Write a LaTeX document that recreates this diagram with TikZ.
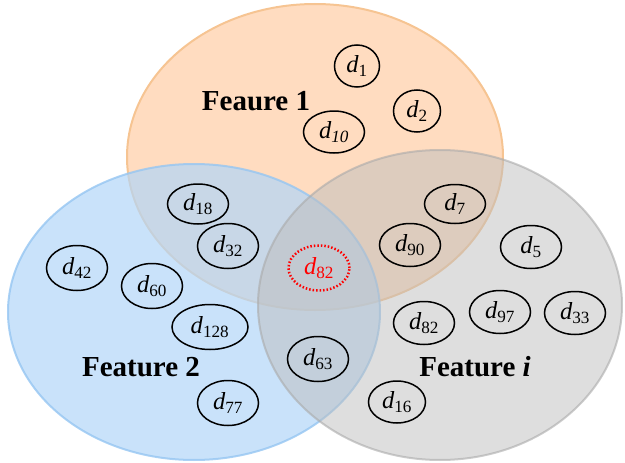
\documentclass[tikz,border=0pt]{standalone}
\usepackage{fontspec}
\setmainfont{Liberation Serif}
\usetikzlibrary{shapes.geometric}
\definecolor{setA}{RGB}{255,220,192}
\definecolor{setAline}{RGB}{246,196,146}
\definecolor{setB}{RGB}{178,214,248}
\definecolor{setBline}{RGB}{150,198,242}
\definecolor{setC}{RGB}{189,189,189}
\definecolor{setCline}{RGB}{170,170,170}
\newcommand{\dsub}[1]{\textit{d}\textsubscript{#1}}
\begin{document}
\begin{tikzpicture}[x=1pt,y=-1pt,
  doc/.style={ellipse,draw=black,line width=1.5pt,inner sep=0pt,
    minimum width=61pt,minimum height=43pt,font=\fontsize{24.5}{24.5}\selectfont},
  hit/.style={doc,draw=red,text=red,dotted,line width=2.5pt},
  setlabel/.style={font=\fontsize{29}{29}\selectfont\bfseries}]
\useasboundingbox (0,0) rectangle (625,463);
% the three feature sets
\fill[setA] (315,157) ellipse [x radius=188pt,y radius=153pt];
\draw[setAline,line width=2pt] (315,157) ellipse [x radius=188pt,y radius=153pt];
\fill[setB,fill opacity=0.7] (194,312) ellipse [x radius=186pt,y radius=148pt];
\draw[setBline,line width=2pt,draw opacity=0.8] (194,312) ellipse [x radius=186pt,y radius=148pt];
\fill[setC,fill opacity=0.5] (440,305) ellipse [x radius=182pt,y radius=155pt];
\draw[setCline,line width=2pt,draw opacity=0.6] (440,305) ellipse [x radius=182pt,y radius=155pt];
% set labels
\node[setlabel] (labA) at (256,101) {Feaure 1};
\node[setlabel] (labB) at (141,367) {Feature 2};
\node[setlabel] (labC) at (475,367) {Feature \textit{i}};
% documents
\node[doc,minimum width=45pt,minimum height=42pt] (d1) at (357,66) {\dsub{1}};
\node[doc,minimum width=47pt,minimum height=42pt] (d2) at (417,111) {\dsub{2}};
\node[doc,minimum height=42pt] (d10) at (334,132) {\dsub{\textit{10}}};
\node[doc,minimum height=40pt] (d18) at (198,204) {\dsub{18}};
\node[doc,minimum height=45pt] (d32) at (228,246) {\dsub{32}};
\node[hit,minimum height=45pt] (d82a) at (319,268) {\dsub{82}};
\node[doc,minimum height=45pt] (d42) at (77,268) {\dsub{42}};
\node[doc,minimum height=45pt] (d60) at (152,286) {\dsub{60}};
\node[doc,minimum width=76pt,minimum height=45pt] (d128) at (210,327) {\dsub{128}};
\node[doc,minimum height=45pt] (d77) at (228,403) {\dsub{77}};
\node[doc,minimum height=39pt] (d7) at (455,204) {\dsub{7}};
\node[doc] (d90) at (410,245) {\dsub{90}};
\node[doc] (d5) at (531,247) {\dsub{5}};
\node[doc] (d82b) at (424,323) {\dsub{82}};
\node[doc] (d97) at (500,312) {\dsub{97}};
\node[doc] (d33) at (575,313) {\dsub{33}};
\node[doc,minimum height=45pt] (d63) at (318,359) {\dsub{63}};
\node[doc,minimum width=57pt,minimum height=42pt] (d16) at (397,402) {\dsub{16}};
\end{tikzpicture}
\end{document}
